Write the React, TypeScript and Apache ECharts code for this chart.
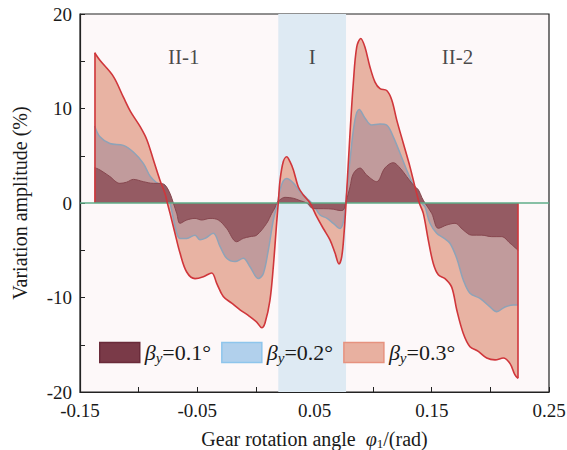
import React, { useEffect, useRef } from "react";
import * as echarts from "echarts";

const SERIF = "'Liberation Serif', 'DejaVu Serif', serif";

// x: gear rotation angle (rad), y: variation amplitude (%)
const beta03: number[][] = [
  [-0.1375, 15.9], [-0.133, 15.1], [-0.1216, 13.4], [-0.113, 11.2], [-0.107, 9.7],
  [-0.0988, 8.1], [-0.093, 6.7], [-0.0875, 4.6], [-0.0818, 2.4], [-0.0775, 1.0],
  [-0.0755, 0], [-0.0732, -1.1], [-0.069, -3.2], [-0.0647, -5.3], [-0.059, -7.3],
  [-0.0519, -8.0], [-0.0448, -7.8], [-0.0377, -7.4], [-0.0334, -8.5], [-0.0278, -9.9],
  [-0.0206, -10.6], [-0.0135, -11.3], [-0.0065, -11.9], [0.0007, -12.6], [0.005, -13.2],
  [0.0078, -12.7], [0.012, -10.3], [0.0149, -6.7], [0.0177, -2.15], [0.0191, 0],
  [0.0206, 2.4], [0.0234, 4.4], [0.0263, 4.9], [0.029, 4.4], [0.032, 3.5],
  [0.0362, 1.7], [0.0405, 0.85], [0.0462, 0], [0.0519, -1.45], [0.0575, -2.7],
  [0.0632, -3.9], [0.0675, -5.3], [0.0709, -6.45], [0.0732, -5.7], [0.0752, -3.2],
  [0.0769, 0], [0.0803, 7.4], [0.0831, 12.7], [0.086, 16.5], [0.0894, 17.4],
  [0.093, 16.5], [0.0973, 14.4], [0.1016, 12.8], [0.1059, 12.1], [0.1116, 11.9],
  [0.1159, 10.9], [0.1201, 8.8], [0.1258, 6.3], [0.1315, 3.8], [0.1357, 1.7],
  [0.1394, 0], [0.1428, -1.1], [0.147, -3.9], [0.1513, -6.4], [0.1556, -7.6],
  [0.1613, -8.0], [0.167, -8.9], [0.1713, -11.3], [0.1769, -13.8], [0.1826, -15.2],
  [0.1897, -15.7], [0.1969, -16.4], [0.204, -16.6], [0.211, -16.4], [0.2168, -17.0],
  [0.221, -18.2], [0.2236, -18.55],
];

const beta02: number[][] = [
  [-0.1375, 8.15], [-0.133, 7.0], [-0.1245, 6.3], [-0.113, 6.1], [-0.1045, 5.4],
  [-0.096, 4.2], [-0.09, 2.8], [-0.0846, 2.15], [-0.0789, 1.7], [-0.0755, 0.8],
  [-0.0732, 0], [-0.0718, -0.8], [-0.0675, -3.2], [-0.0647, -3.75], [-0.059, -3.75],
  [-0.0519, -3.4], [-0.0476, -3.9], [-0.0434, -3.75], [-0.0363, -3.2], [-0.0306, -4.6],
  [-0.0249, -5.85], [-0.0178, -6.2], [-0.0107, -5.85], [-0.005, -6.75], [0.0021, -8.0],
  [0.0064, -7.45], [0.0106, -5.0], [0.0149, -1.8], [0.0185, 0], [0.0206, 1.4],
  [0.0234, 2.35], [0.0263, 2.6], [0.032, 2.1], [0.0377, 1.2], [0.0434, 0.5],
  [0.049, -0.2], [0.0547, -1.27], [0.0604, -1.6], [0.066, -2.15], [0.0718, -2.7],
  [0.0746, -2.0], [0.0766, 0], [0.0803, 4.55], [0.0845, 8.8], [0.0882, 9.9],
  [0.093, 9.0], [0.0988, 8.25], [0.1059, 8.36], [0.1116, 8.25], [0.1172, 7.0],
  [0.123, 5.26], [0.1286, 3.5], [0.1343, 1.9], [0.1386, 1.0], [0.1414, 0],
  [0.1442, -0.4], [0.1485, -2.15], [0.1542, -3.2], [0.16, -3.7], [0.1655, -4.26],
  [0.1713, -5.85], [0.1769, -8.15], [0.1826, -9.55], [0.1912, -10.1], [0.1997, -11.0],
  [0.2054, -11.5], [0.2125, -11.0], [0.2196, -10.8], [0.2236, -10.8],
];

const beta01: number[][] = [
  [-0.1375, 3.74], [-0.133, 3.5], [-0.1245, 2.8], [-0.116, 2.08], [-0.1103, 2.2],
  [-0.1045, 2.5], [-0.096, 2.26], [-0.0875, 2.08], [-0.0818, 2.08], [-0.0775, 1.9],
  [-0.0732, 1.0], [-0.0704, 0], [-0.0675, -1.1], [-0.0647, -2.15], [-0.059, -1.8],
  [-0.0519, -1.63], [-0.0462, -1.8], [-0.0391, -1.63], [-0.032, -1.8], [-0.0249, -2.7],
  [-0.0164, -4.1], [-0.0107, -3.74], [-0.005, -3.56], [0.0007, -3.4], [0.0092, -2.15],
  [0.0135, -1.1], [0.0163, -0.5], [0.0178, 0], [0.0206, 0.35], [0.0249, 0.6],
  [0.032, 0.5], [0.0377, 0.25], [0.0434, 0], [0.049, -0.6], [0.0575, -0.6],
  [0.066, -0.65], [0.0718, -0.8], [0.0746, -0.75], [0.0766, 0], [0.0803, 1.7],
  [0.0831, 3.1], [0.0888, 3.7], [0.0945, 2.96], [0.103, 2.26], [0.11, 3.7],
  [0.1172, 4.27], [0.123, 3.7], [0.1286, 2.8], [0.1343, 1.9], [0.1386, 1.4],
  [0.1415, 0.6], [0.1442, 0], [0.15, -1.1], [0.1556, -2.68], [0.1627, -2.33],
  [0.1698, -2.15], [0.1769, -2.86], [0.184, -3.4], [0.1925, -3.4], [0.2011, -3.56],
  [0.2096, -3.56], [0.2168, -4.26], [0.2236, -5.0],
];

const regionBand: number[] = [0.0191, 0.0769];
const regionLabels: { name: string; x: number; y: number }[] = [
  { name: "II-1", x: -0.0615, y: 15.45 },
  { name: "I", x: 0.048, y: 15.45 },
  { name: "II-2", x: 0.172, y: 15.45 },
];
const xTickLabels: string[] = ["-0.15", "-0.05", "0.05", "0.15", "0.25"];
const yTickLabels: string[] = ["-20", "-10", "0", "10", "20"];
const seriesNames: string[] = ["0.1", "0.2", "0.3"];

export default function App() {
  const ref = useRef<HTMLDivElement>(null);
  useEffect(() => {
    if (!ref.current) return;
    const chart = echarts.init(ref.current, undefined, { renderer: "svg" });
    const first = beta03[0];
    const last = beta03[beta03.length - 1];
    const axisText = { fontFamily: SERIF, fontSize: 19, color: "#1a1a1a" };
    chart.setOption({
      animation: false,
      grid: {
        left: 80, right: 18, top: 14, bottom: 58,
        containLabel: false, outerBoundsMode: "none",
        show: true, backgroundColor: "#fdf8f9", borderColor: "#222", borderWidth: 1.2,
      },
      legend: {
        left: 99, top: 340, padding: 0, itemWidth: 40, itemHeight: 20, itemGap: 10, icon: "rect",
        data: [
          { name: seriesNames[0], itemStyle: { color: "#7a3a48", borderColor: "#6a2b3a", borderWidth: 1.5 } },
          { name: seriesNames[1], itemStyle: { color: "#b1d0ec", borderColor: "#8ec5ec", borderWidth: 1.5 } },
          { name: seriesNames[2], itemStyle: { color: "#e8b0a0", borderColor: "#e6927f", borderWidth: 1.5 } },
        ],
        formatter: (n: string) => `{b|β}{s|y}{n|=${n}°}`,
        textStyle: {
          fontFamily: SERIF, color: "#1a1a1a",
          rich: {
            b: { fontFamily: SERIF, fontSize: 22, fontStyle: "italic", lineHeight: 24 },
            s: { fontFamily: SERIF, fontSize: 15, fontStyle: "italic", lineHeight: 24, padding: [10, 0, 0, 0] },
            n: { fontFamily: SERIF, fontSize: 22, lineHeight: 24 },
          },
        },
      },
      xAxis: {
        type: "value", min: -0.15, max: 0.25, interval: 0.05,
        splitLine: { show: false },
        axisLine: { onZero: false, lineStyle: { color: "#222", width: 1.2 } },
        axisTick: { inside: true, length: 5, lineStyle: { color: "#222" } },
        axisLabel: {
          ...axisText, margin: 9,
          formatter: (v: number) => {
            const k = Math.round((v + 0.15) / 0.05);
            return k % 2 === 0 ? xTickLabels[k / 2] : "";
          },
        },
        name: "Gear rotation angle  {i|φ}{s|1}/(rad)",
        nameLocation: "middle", nameGap: 37,
        nameTextStyle: {
          ...axisText, fontSize: 20, lineHeight: 20,
          rich: {
            i: { fontFamily: SERIF, fontSize: 20, fontStyle: "italic", lineHeight: 20 },
            s: { fontFamily: SERIF, fontSize: 13, lineHeight: 20, padding: [8, 0, 0, 0] },
          },
        },
      },
      yAxis: {
        type: "value", min: -20, max: 20, interval: 5,
        splitLine: { show: false },
        axisLine: { onZero: false, lineStyle: { color: "#222", width: 1.2 } },
        axisTick: { inside: true, length: 5, lineStyle: { color: "#222" } },
        axisLabel: {
          ...axisText, margin: 8,
          formatter: (v: number) => {
            const k = Math.round((v + 20) / 5);
            return k % 2 === 0 ? yTickLabels[k / 2] : "";
          },
        },
        name: "Variation amplitude (%)",
        nameLocation: "middle", nameGap: 50, nameRotate: 90,
        nameTextStyle: { ...axisText, fontSize: 20 },
      },
      series: [
        {
          type: "line", name: "band", data: [], z: 1, silent: true,
          markArea: {
            silent: true,
            itemStyle: { color: "#deeaf3" },
            data: [[{ xAxis: regionBand[0] }, { xAxis: regionBand[1] }]],
          },
        },
        {
          type: "line", name: seriesNames[2], data: beta03, smooth: 0.35, symbol: "none", z: 2,
          lineStyle: { width: 0 }, areaStyle: { color: "#e8b3a3", opacity: 1 },
        },
        {
          type: "line", name: seriesNames[1], data: beta02, smooth: 0.35, symbol: "none", z: 3,
          lineStyle: { color: "#8ea3b8", width: 1.5 }, areaStyle: { color: "#c19b9c", opacity: 1 },
        },
        {
          type: "line", name: seriesNames[0], data: beta01, smooth: 0.35, symbol: "none", z: 4,
          lineStyle: { color: "#86474f", width: 1 }, areaStyle: { color: "#955b63", opacity: 1 },
        },
        {
          type: "line", name: "beta03-line", data: beta03, smooth: 0.35, symbol: "none", z: 5,
          lineStyle: { color: "#d0363b", width: 1.6 }, silent: true,
          markLine: {
            silent: true, symbol: "none", label: { show: false },
            data: [
              [{ coord: [first[0], 0], lineStyle: { color: "#d0363b", width: 1.6, type: "solid" } }, { coord: [first[0], first[1]] }],
              [{ coord: [last[0], 0], lineStyle: { color: "#d0363b", width: 1.6, type: "solid" } }, { coord: [last[0], last[1]] }],
              { yAxis: 0, lineStyle: { color: "#5fae88", width: 1.5, type: "solid" } },
            ],
          },
        },
        {
          type: "scatter", name: "regions", z: 6, silent: true, symbolSize: 1,
          itemStyle: { color: "rgba(0,0,0,0)" },
          data: regionLabels.map((r) => ({ name: r.name, value: [r.x, r.y] })),
          label: {
            show: true, position: "inside", formatter: "{b}",
            fontFamily: SERIF, fontSize: 21, color: "#1a1a1a",
          },
        },
      ],
    });
    return () => chart.dispose();
  }, []);
  return (
    <div
      ref={ref}
      style={{ position: "fixed", left: 0, top: 0, width: 567, height: 450, background: "#fff" }}
    />
  );
}
